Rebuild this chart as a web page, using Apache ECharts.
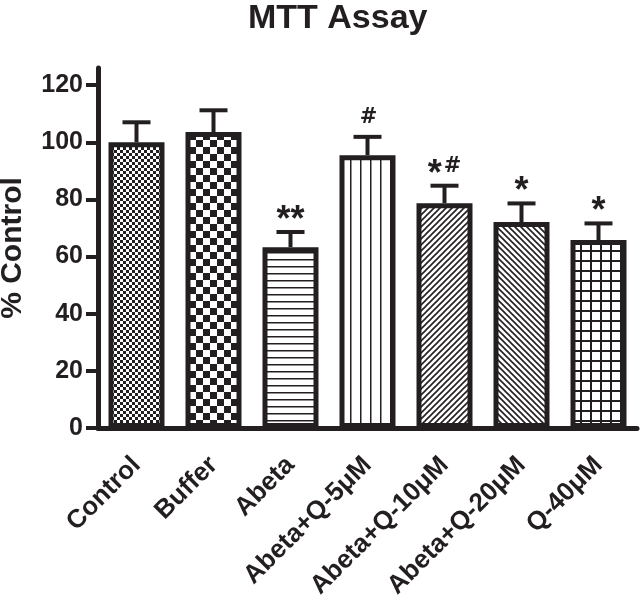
<!DOCTYPE html>
<html>
<head>
<meta charset="utf-8">
<script src="https://cdn.jsdelivr.net/npm/echarts@6/dist/echarts.min.js"></script>
<style>
html, body { margin: 0; padding: 0; background: #fff; }
#main { width: 640px; height: 602px; }
</style>
</head>
<body>
<div id="main"></div>
<script>
// 数据
var categories = ['Control', 'Buffer', 'Abeta', 'Abeta+Q-5\u03bcM', 'Abeta+Q-10\u03bcM', 'Abeta+Q-20\u03bcM', 'Q-40\u03bcM'];
var means = [100, 103.6, 63.3, 95.5, 78.7, 72.1, 65.8];
var errors = [7, 7.6, 5.3, 6.4, 6.1, 6.5, 5.8];
var marks = ['', '', '**', '#', '*#', '*', '*'];
var yTicks = [0, 20, 40, 60, 80, 100, 120];

var INK = '#231f20';
var FONT = 'Liberation Sans, Arial, sans-serif';

/**
 * @desc 生成填充图案
 */
var makePattern = function(w, h, draw) {
	var c = document.createElement('canvas');
	c.width = w;
	c.height = h;
	var ctx = c.getContext('2d');
	ctx.fillStyle = '#fff';
	ctx.fillRect(0, 0, w, h);
	ctx.fillStyle = INK;
	ctx.strokeStyle = INK;
	draw(ctx, w, h);
	return { image: c, repeat: 'repeat' };
};

var patterns = [
	// 细棋盘
	makePattern(6, 6, function(ctx) {
		ctx.fillRect(0, 0, 3, 3);
		ctx.fillRect(3, 3, 3, 3);
	}),
	// 粗棋盘
	makePattern(14, 14, function(ctx) {
		ctx.fillRect(0, 0, 7, 7);
		ctx.fillRect(7, 7, 7, 7);
	}),
	// 横线
	makePattern(8, 7, function(ctx) {
		ctx.fillRect(0, 0, 8, 1.5);
	}),
	// 竖线
	makePattern(10, 8, function(ctx) {
		ctx.fillRect(0, 0, 1.5, 8);
	}),
	// 斜线 /
	makePattern(6, 6, function(ctx, w, h) {
		ctx.lineWidth = 1.6;
		ctx.beginPath();
		ctx.moveTo(-1, h + 1); ctx.lineTo(w + 1, -1);
		ctx.moveTo(-1, 1); ctx.lineTo(1, -1);
		ctx.moveTo(w - 1, h + 1); ctx.lineTo(w + 1, h - 1);
		ctx.stroke();
	}),
	// 斜线 \
	makePattern(6, 6, function(ctx, w, h) {
		ctx.lineWidth = 1.6;
		ctx.beginPath();
		ctx.moveTo(-1, -1); ctx.lineTo(w + 1, h + 1);
		ctx.moveTo(w - 1, -1); ctx.lineTo(w + 1, 1);
		ctx.moveTo(-1, h - 1); ctx.lineTo(1, h + 1);
		ctx.stroke();
	}),
	// 方格
	makePattern(10, 10, function(ctx) {
		ctx.fillRect(0, 0, 10, 2);
		ctx.fillRect(0, 0, 2, 10);
	})
];

var barData = [];
var errData = [];
for (var i = 0; i < categories.length; i++) {
	barData.push({
		value: means[i],
		itemStyle: { color: patterns[i] }
	});
	errData.push([i, means[i], errors[i]]);
}

var chart = echarts.init(document.getElementById('main'));
chart.setOption({
	animation: false,
	title: {
		text: 'MTT Assay',
		left: 243,
		top: -3,
		textStyle: { fontFamily: FONT, fontSize: 34, fontWeight: 'bold', color: INK }
	},
	grid: { left: 98, right: 3, top: 68, bottom: 174, outerBoundsMode: 'none', containLabel: false },
	xAxis: {
		type: 'category',
		data: categories,
		axisLine: { lineStyle: { color: INK, width: 5 } },
		axisTick: { alignWithLabel: true, length: 12, lineStyle: { color: INK, width: 4 } },
		axisLabel: {
			interval: 0,
			rotate: 45,
			margin: 33,
			color: INK,
			fontFamily: FONT,
			fontSize: 26,
			fontWeight: 'bold'
		}
	},
	yAxis: {
		type: 'value',
		min: 0,
		max: 126,
		name: '% Control',
		nameLocation: 'middle',
		nameRotate: 90,
		nameGap: 70,
		nameTextStyle: { fontFamily: FONT, fontSize: 30, fontWeight: 'bold', color: INK },
		splitLine: { show: false },
		axisLine: { show: true, lineStyle: { color: INK, width: 5 } },
		axisTick: { show: true, length: 12, customValues: yTicks, lineStyle: { color: INK, width: 4 } },
		axisLabel: {
			customValues: yTicks,
			margin: 15,
			color: INK,
			fontFamily: FONT,
			fontSize: 25,
			fontWeight: 'bold'
		}
	},
	series: [{
		type: 'bar',
		data: barData,
		barWidth: 56,
		itemStyle: { borderColor: INK, borderWidth: 5 },
		z: 2
	}, {
		type: 'custom',
		data: errData,
		z: 1,
		renderItem: function(params, api) {
			var idx = params.dataIndex;
			var base = api.coord([api.value(0), api.value(1)]);
			var tip = api.coord([api.value(0), api.value(1) + api.value(2)]);
			var half = 14;
			var mark = marks[idx];
			var children = [{
				type: 'line',
				shape: { x1: base[0], y1: base[1], x2: tip[0], y2: tip[1] },
				style: { stroke: INK, lineWidth: 4 }
			}, {
				type: 'line',
				shape: { x1: tip[0] - half, y1: tip[1], x2: tip[0] + half, y2: tip[1] },
				style: { stroke: INK, lineWidth: 4 }
			}];
			if (mark) {
				var rich = mark.replace(/\*/g, '{s|*}').replace(/#/g, '{h|#}');
				children.push({
					type: 'text',
					x: tip[0],
					y: tip[1] - 2,
					style: {
						text: rich,
						align: 'center',
						verticalAlign: 'bottom',
						fill: INK,
						rich: {
							s: { fontFamily: FONT, fontSize: 36, fontWeight: 'bold', color: INK, lineHeight: 28, padding: [0, 0, -10, 0] },
							h: { fontFamily: 'DejaVu Sans', fontSize: 21, fontWeight: 'bold', color: INK, lineHeight: 28, padding: [0, 0, 7, 2] }
						}
					}
				});
			}
			return { type: 'group', children: children };
		}
	}]
});
</script>
</body>
</html>
